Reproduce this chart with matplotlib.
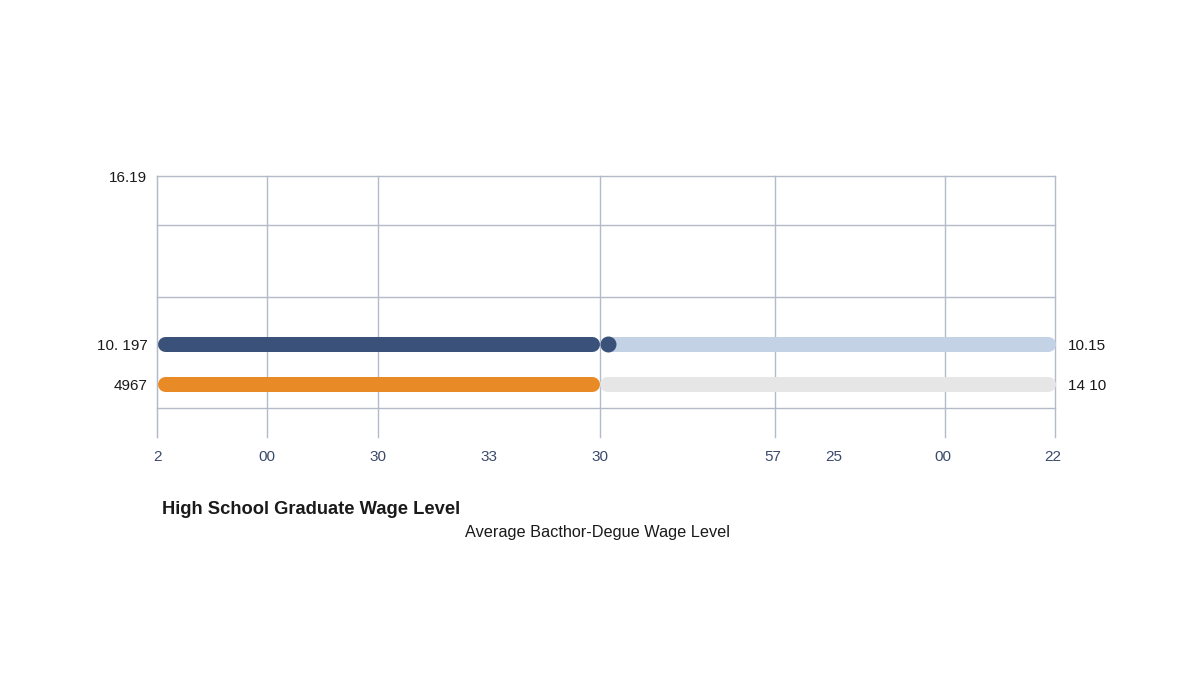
import matplotlib
matplotlib.use("Agg")
import matplotlib.pyplot as plt

# ---- data ----
x_tick_pos = [0, 12.25, 24.6, 37.0, 49.3, 68.6, 75.4, 87.5, 99.8]
x_tick_labels = ["2", "00", "30", "33", "30", "57", "25", "00", "22"]
v_grid = [0, 12.25, 24.6, 49.3, 68.8, 87.75, 100]
h_grid = [10, 8.12, 5.36, 1.11]

row_pos = [3.56, 2.03]
left_tick_pos = [10, 3.56, 2.03]
left_labels = ["16.19", "10. 197", "4967"]
right_labels = ["10.15", "14 10"]

series_values = [49.3, 49.3]          # navy, orange
track_max = 100
marker_value = 50.2
bar_colors = ["#3a5279", "#e88a26"]
track_colors = ["#c4d2e5", "#e6e6e6"]

legend_labels = ["High School Graduate Wage Level",
                 "Average Bacthor-Degue Wage Level"]

plt.rcParams['font.family'] = ['Liberation Sans', 'DejaVu Sans']

fig = plt.figure(figsize=(12, 6.75), dpi=100)
fig.patch.set_facecolor("white")
ax = fig.add_axes([157/1200, 1-437/675, 898/1200, 261/675])
ax.set_xlim(0, 100)
ax.set_ylim(0, 10)

grid_c = "#b3bac8"
for x in v_grid:
    ax.axvline(x, color=grid_c, lw=1.0, zorder=1, clip_on=False)
for y in h_grid:
    ax.axhline(y, color=grid_c, lw=1.0, zorder=1, clip_on=False)

for s in ["top", "right", "bottom"]:
    ax.spines[s].set_visible(False)
ax.spines["left"].set_color(grid_c)

# bars with round caps
lw_px = 15
lw_pt = lw_px * 72 / 100
cap = (lw_px / 2) / 8.98  # half width in data units
for y, v, c, tc in zip(row_pos, series_values, bar_colors, track_colors):
    ax.plot([v + cap, track_max - cap], [y, y], color=tc, lw=lw_pt,
            solid_capstyle="round", zorder=2, clip_on=False)
    ax.plot([cap, v - cap], [y, y], color=c, lw=lw_pt,
            solid_capstyle="round", zorder=3, clip_on=False)
ax.plot([marker_value], [row_pos[0]], "o", color=bar_colors[0],
        markersize=10.5, zorder=4, clip_on=False)

# ticks
ax.set_xticks(x_tick_pos)
ax.set_xticklabels(x_tick_labels, color="#3b4a6b", fontsize=11)
ax.tick_params(axis="x", length=0, pad=9.5)
ax.set_yticks(left_tick_pos)
ax.set_yticklabels(left_labels, color="#1a1a1a", fontsize=11)
ax.tick_params(axis="y", length=0, pad=7)

ax2 = ax.twinx()
ax2.set_ylim(ax.get_ylim())
ax2.set_yticks(row_pos)
ax2.set_yticklabels(right_labels, color="#1a1a1a", fontsize=11)
ax2.tick_params(axis="y", length=0, pad=9)
for s in ax2.spines.values():
    s.set_visible(False)

fig.text(162/1200, 1-510/675, legend_labels[0], fontsize=13.2,
         fontweight="bold", color="#1a1a1a", va="center", ha="left")
fig.text(465/1200, 1-533/675, legend_labels[1], fontsize=11.7,
         color="#1a1a1a", va="center", ha="left")

fig.savefig("out.png", dpi=100, facecolor="white")
